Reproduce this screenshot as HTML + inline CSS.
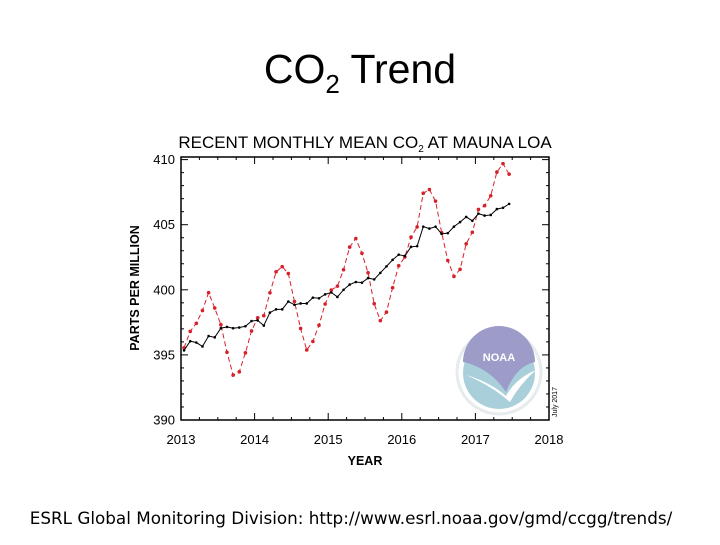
<!DOCTYPE html>
<html><head><meta charset="utf-8"><style>
body{margin:0;background:#fff;width:720px;height:540px;overflow:hidden;font-family:"Liberation Sans",sans-serif}
</style></head><body>
<svg width="720" height="540" xmlns="http://www.w3.org/2000/svg">
<text x="360" y="83" font-size="41" text-anchor="middle" font-family="Liberation Sans, sans-serif">CO<tspan font-size="26" dy="10">2</tspan><tspan dy="-10"> Trend</tspan></text>
<text x="365" y="148" font-size="17" text-anchor="middle" font-family="Liberation Sans, sans-serif">RECENT MONTHLY MEAN CO<tspan font-size="10" dy="4">2</tspan><tspan dy="-4"> AT MAUNA LOA</tspan></text>
<text transform="translate(139,288) rotate(-90)" font-size="12.5" font-weight="bold" text-anchor="middle">PARTS PER MILLION</text>
<text x="365" y="465" font-size="12.5" font-weight="bold" text-anchor="middle">YEAR</text>
<g id="logo">
<circle cx="499" cy="372" r="42" fill="#fff" stroke="#e6ebee" stroke-width="3"/>
<circle cx="499" cy="373" r="36" fill="#a9d0da"/>
<path d="M463,362 A36,36 0 0 1 535,362 Q516,366 506,392 Q490,368 463,362Z" fill="#9d9bc8"/>
<path d="M466,375 Q490,382 506,396 Q516,378 536,370 Q520,384 510,402 Q492,386 466,375Z" fill="#fff"/>
<text x="499" y="361" font-size="11" font-weight="bold" fill="#fff" text-anchor="middle">NOAA</text>
</g>
<text transform="translate(557,417) rotate(-90)" font-size="7">July 2017</text>
<g id="chart"></g>
<text x="351" y="524" font-size="16.8" text-anchor="middle" font-family="DejaVu Sans, sans-serif">ESRL Global Monitoring Division: http://www.esrl.noaa.gov/gmd/ccgg/trends/</text>
</svg>
<script>
const yTicks=[390,395,400,405,410];
const xTicks=[2013,2014,2015,2016,2017,2018];
const monthly=[395.55,396.80,397.43,398.41,399.78,398.60,397.32,395.20,393.45,393.70,395.16,396.84,
397.85,398.01,399.77,401.38,401.78,401.25,399.10,397.03,395.38,396.03,397.28,398.91,
399.98,400.28,401.54,403.28,403.94,402.80,401.31,398.93,397.63,398.29,400.16,401.85,
402.52,404.04,404.83,407.42,407.70,406.81,404.39,402.25,401.03,401.57,403.53,404.42,
406.17,406.46,407.22,409.04,409.69,408.88];
const trend=[395.35,396.05,395.95,395.65,396.45,396.35,397.05,397.15,397.05,397.1,397.2,397.6,
397.65,397.25,398.25,398.5,398.5,399.1,398.85,398.95,398.95,399.4,399.35,399.65,
399.8,399.45,400.0,400.4,400.6,400.55,400.9,400.8,401.3,401.8,402.3,402.7,
402.6,403.3,403.35,404.85,404.7,404.85,404.3,404.35,404.85,405.2,405.6,405.3,
405.85,405.7,405.75,406.2,406.3,406.6];
const startYear=2013;
const L=181,R=549,T=157,B=420;
const xs=t=>L+(t-2013)/5*(R-L);
const ys=v=>B-(v-390)/(410.2-390)*(B-T);
const NS="http://www.w3.org/2000/svg";
const g=document.getElementById('chart');
function mk(tag,a){const e=document.createElementNS(NS,tag);for(const k in a)e.setAttribute(k,a[k]);g.appendChild(e);return e;}
const frame=mk('rect',{x:L,y:T,width:R-L,height:B-T,fill:'none',stroke:'#000','stroke-width':1.5});


for(let v=390;v<=410;v++){const y=ys(v);const len=v%5===0?7:3;
mk('line',{x1:L,x2:L+len,y1:y,y2:y,stroke:'#000'});mk('line',{x1:R,x2:R-len,y1:y,y2:y,stroke:'#000'});}
yTicks.forEach(v=>{const t=mk('text',{x:L-6,y:ys(v)+4.5,'font-size':13,'text-anchor':'end'});t.textContent=v;

});
for(let q=0;q<=20;q++){const x=xs(2013+q/4);const len=q%4===0?7:3;
mk('line',{x1:x,x2:x,y1:B,y2:B-len,stroke:'#000'});mk('line',{x1:x,x2:x,y1:T,y2:T+len,stroke:'#000'});}
xTicks.forEach(v=>{const t=mk('text',{x:xs(v),y:444,'font-size':13,'text-anchor':'middle'});t.textContent=v;

});
function series(data,color,dash,name,r){
const pts=data.map((v,i)=>[xs(startYear+(i+0.5)/12),ys(v)]);
const p=mk('polyline',{points:pts.map(p=>p.join(',')).join(' '),fill:'none',stroke:color,'stroke-width':1,'stroke-dasharray':dash});


pts.forEach(q=>{const c=mk('circle',{cx:q[0],cy:q[1],r:r,fill:color});

});
}
series(monthly,'#d8202a','5,3','monthly-mean',1.8);
series(trend,'#000','none','trend',1.3);
</script>
</body></html>
